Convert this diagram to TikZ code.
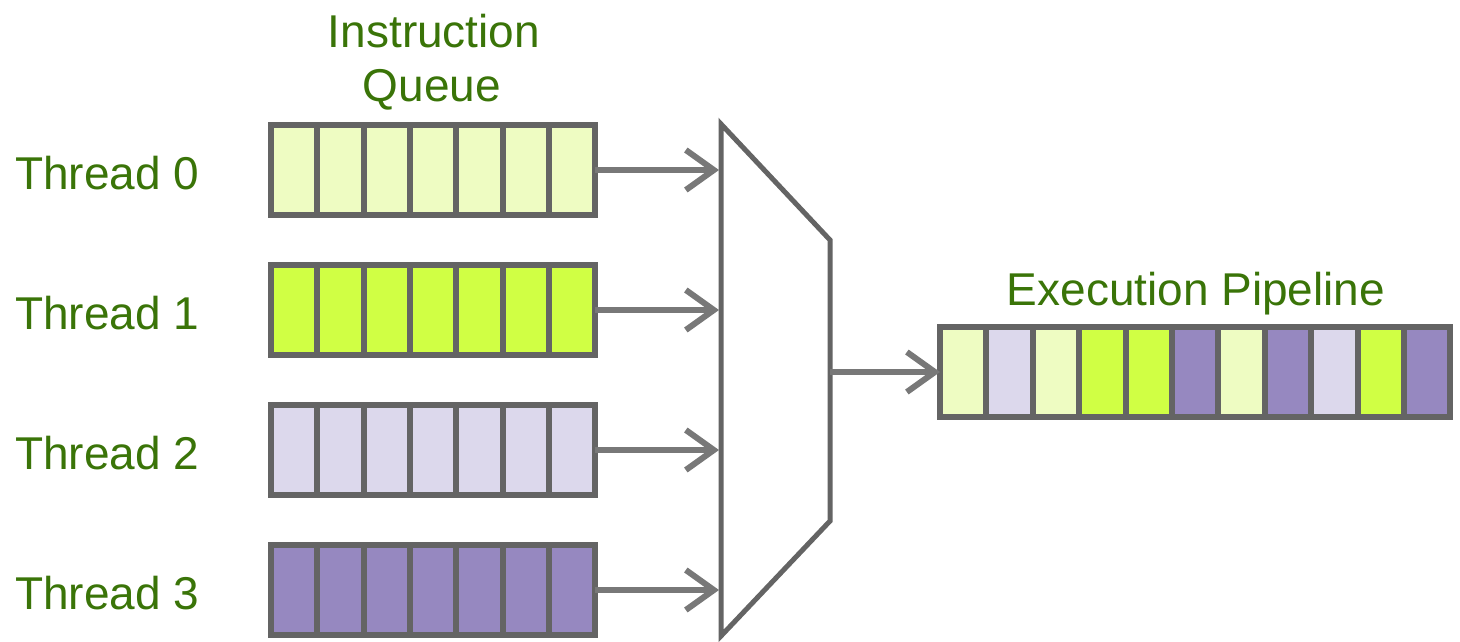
\documentclass[tikz,border=0pt]{standalone}
\usepackage{fontspec}
\setmainfont{Liberation Sans}
\usetikzlibrary{arrows.meta}

\definecolor{edgegray}{RGB}{100,100,100}
\definecolor{arrowgray}{RGB}{120,120,120}
\definecolor{labelgreen}{RGB}{58,116,8}
\definecolor{paleLime}{RGB}{238,252,194}
\definecolor{brightLime}{RGB}{208,255,68}
\definecolor{paleLavender}{RGB}{220,216,236}
\definecolor{deepLavender}{RGB}{150,136,192}

\tikzset{
  cell/.style={rectangle, draw=edgegray, line width=6pt, inner sep=0pt, outer sep=0pt,
               minimum width=46.3pt, minimum height=90pt},
  lbl/.style={text=labelgreen, inner sep=0pt, font=\fontsize{46}{49}\selectfont},
  feed/.style={draw=arrowgray, line width=6pt,
               -{Straight Barb[length=28pt, width=40pt, line width=6pt]}},
  muxline/.style={draw=edgegray, line width=5pt, line join=miter}
}

\begin{document}
\begin{tikzpicture}[x=1pt, y=-1pt]
  \useasboundingbox (0,0) rectangle (1460,641);

  % titles
  \node[lbl, anchor=base] (iqtitle) at (434,47) {Instruction};
  \node[lbl, anchor=base] (iqtitle2) at (432,101) {Queue};
  \node[lbl, anchor=base] (eptitle) at (1196,305) {Execution Pipeline};

  % per-thread instruction queues
  \foreach \t/\yc/\col in {0/170/paleLime, 1/310/brightLime, 2/450/paleLavender, 3/590/deepLavender} {
    \node[lbl, anchor=base west] (th\t) at (15,\yc+19) {Thread \t};
    \foreach \k in {1,...,7} {
      \node[cell, fill=\col] (q\t c\k) at ({271+23.15+(\k-1)*46.3},\yc) {};
    }
  }

  % multiplexer
  \coordinate (mtl) at (721,124);
  \coordinate (mtr) at (830,240);
  \coordinate (mbr) at (830,521);
  \coordinate (mbl) at (721,636);
  \draw[muxline] (mtl) -- (mtr) -- (mbr) -- (mbl) -- cycle;
  \foreach \t/\yc in {0/170, 1/310, 2/450, 3/590} {
    \coordinate (min\t) at (719,\yc);
    \draw[feed] (q\t c7.east) -- (min\t);
  }
  \coordinate (mout) at (830,372);

  % execution pipeline
  \foreach \k/\col in {1/paleLime, 2/paleLavender, 3/paleLime, 4/brightLime, 5/brightLime,
                       6/deepLavender, 7/paleLime, 8/deepLavender, 9/paleLavender,
                       10/brightLime, 11/deepLavender} {
    \node[cell, fill=\col] (p\k) at ({940+23.2+(\k-1)*46.4},372) {};
  }
  \draw[feed] (mout) -- (p1.west);
\end{tikzpicture}
\end{document}
